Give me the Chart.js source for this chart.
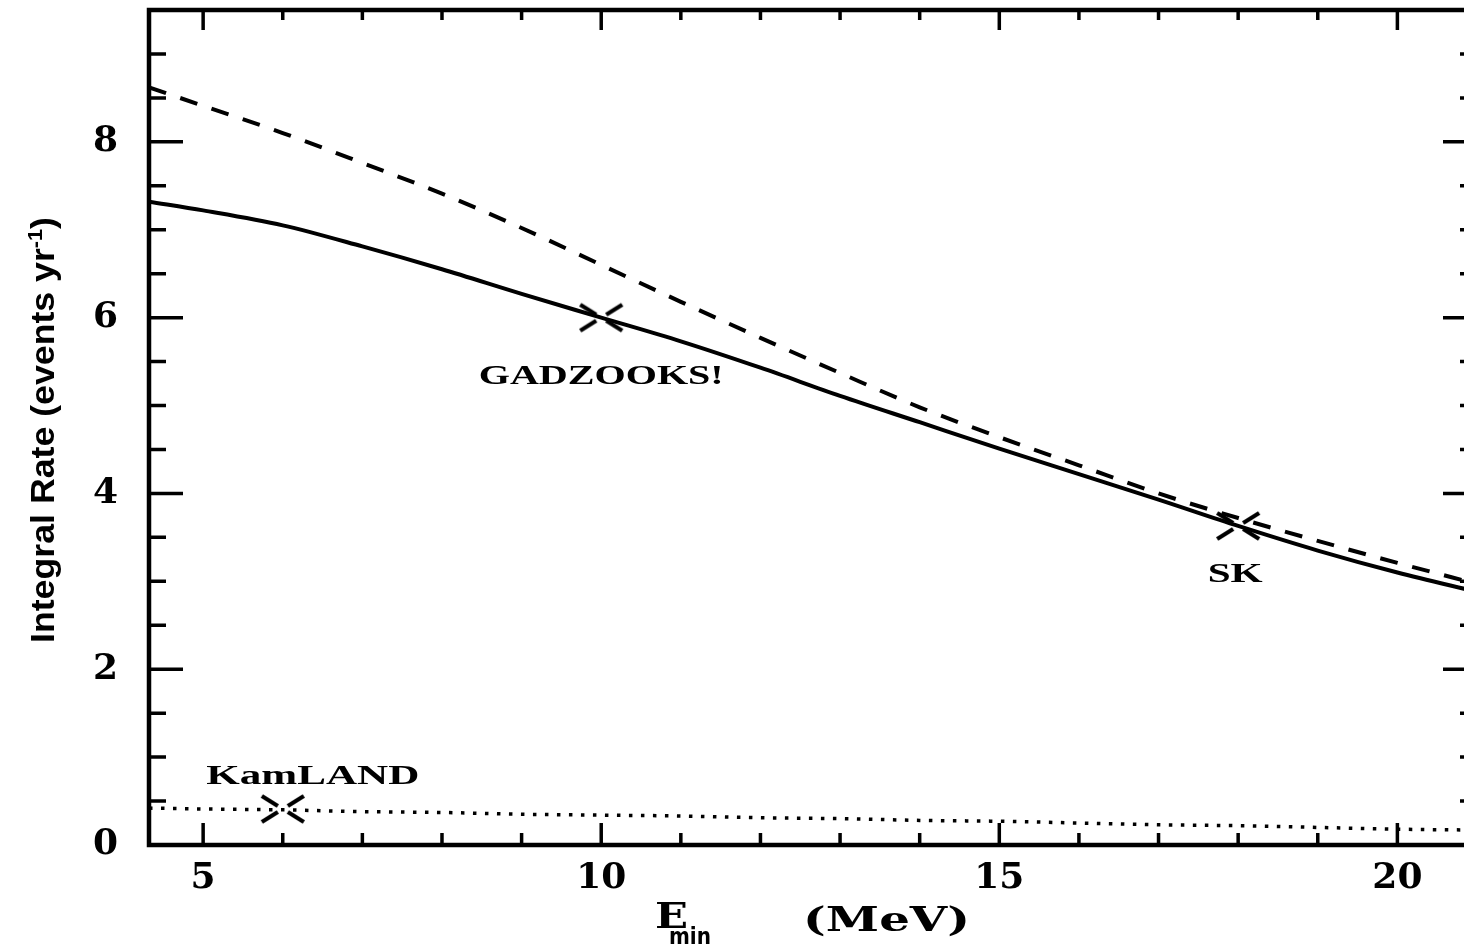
<!DOCTYPE html>
<html>
<head>
  <title>Integral Rate vs Emin</title>
  <script src="https://cdn.jsdelivr.net/npm/chart.js"></script>
  <style>
    html, body { margin: 0; padding: 0; background: #fff; overflow: hidden; }
    #wrap { width: 1490px; height: 950px; }
  </style>
</head>
<body>
  <div id="wrap"><canvas id="rateChart" width="1490" height="950"></canvas></div>

  <script>
    // threshold energy (MeV) and integral rates (events / yr)
    const energy = [4.32, 5, 6, 7, 8, 9, 10, 11, 12, 13, 14, 15, 16, 17, 18, 19, 20, 21];
    const rateSolid = [7.32, 7.22, 7.05, 6.81, 6.55, 6.27, 6.00, 5.73, 5.43, 5.11, 4.81, 4.51, 4.22, 3.93, 3.63, 3.35, 3.10, 2.88];
    const rateDashed = [8.62, 8.41, 8.10, 7.76, 7.41, 7.02, 6.60, 6.18, 5.77, 5.37, 4.98, 4.64, 4.32, 4.00, 3.72, 3.46, 3.21, 2.97];
    const rateDotted = [0.42, 0.41, 0.40, 0.38, 0.37, 0.35, 0.34, 0.33, 0.31, 0.30, 0.28, 0.27, 0.25, 0.23, 0.22, 0.20, 0.18, 0.17];

    // detector thresholds marked on the curves
    const detectorNames = ['KamLAND', 'GADZOOKS!', 'SK'];
    const detectorE = [6, 10, 18];
    const detectorRate = [0.41, 6.0, 3.63];

    const xTicks = [5, 10, 15, 20];
    const yTicks = [0, 2, 4, 6, 8];

    const pts = ys => energy.map((e, i) => ({ x: e, y: ys[i] }));

    // flattened "X" with an open centre, like the original markers
    const cross = document.createElement('canvas');
    cross.width = 48; cross.height = 32;
    (function () {
      const c = cross.getContext('2d');
      c.strokeStyle = '#000';
      c.lineWidth = 4;
      c.translate(24, 16);
      [[1, 1], [1, -1], [-1, 1], [-1, -1]].forEach(([sx, sy]) => {
        c.beginPath();
        c.moveTo(sx * 5, sy * 3);
        c.lineTo(sx * 21, sy * 13);
        c.stroke();
      });
    })();

    function stretchText(ctx, text, x, y, w, font, align) {
      ctx.save();
      ctx.font = font;
      const nat = ctx.measureText(text).width;
      ctx.translate(x, y);
      ctx.scale(w / nat, 1);
      ctx.textAlign = 'left';
      ctx.textBaseline = 'alphabetic';
      const off = align === 'center' ? -nat / 2 : (align === 'right' ? -nat : 0);
      ctx.fillText(text, off, 0);
      ctx.restore();
    }

    const framePlugin = {
      id: 'frame',
      afterDraw(chart) {
        const { ctx, chartArea: a, scales: { x, y } } = chart;
        ctx.save();
        ctx.strokeStyle = '#000';
        ctx.fillStyle = '#000';
        ctx.lineCap = 'butt';

        // inward ticks
        ctx.lineWidth = 3.5;
        ctx.beginPath();
        for (let v = 5; v <= 21; v++) {
          const px = x.getPixelForValue(v);
          const major = v % 5 === 0;
          ctx.moveTo(px, a.bottom); ctx.lineTo(px, a.bottom - (major ? 22 : 12));
          ctx.moveTo(px, a.top); ctx.lineTo(px, a.top + (major ? 20 : 10));
        }
        for (let v = 0.5; v < 9.5; v += 0.5) {
          const py = y.getPixelForValue(v);
          const major = v % 2 === 0;
          ctx.moveTo(a.left, py); ctx.lineTo(a.left + (major ? 34 : 17), py);
          ctx.moveTo(a.right, py); ctx.lineTo(a.right - (major ? 34 : 17), py);
        }
        ctx.stroke();

        // frame
        ctx.lineWidth = 4.5;
        ctx.strokeRect(a.left, a.top, a.right - a.left, a.bottom - a.top);

        // detector labels
        const offs = [[30, -25], [0, 66], [-3, 56]];
        const widths = [213, 245, 55];
        detectorNames.forEach((name, i) => {
          const px = x.getPixelForValue(detectorE[i]) + offs[i][0];
          const py = y.getPixelForValue(detectorRate[i]) + offs[i][1];
          stretchText(ctx, name, px, py, widths[i], 'bold 27px "Liberation Serif"', 'center');
        });

        // x axis title: E_min (MeV)
        stretchText(ctx, 'E', 655, 928, 33, 'bold 35px "DejaVu Serif"', 'left');
        stretchText(ctx, 'min', 669, 944, 42, 'bold 23px "DejaVu Sans"', 'left');
        stretchText(ctx, '(MeV)', 803, 931, 167, 'bold 34px "DejaVu Serif"', 'left');

        // y axis title, rotated and condensed
        ctx.save();
        ctx.translate(54, 643);
        ctx.rotate(-Math.PI / 2);
        const main = 'Integral Rate (events yr';
        const fMain = 'bold 33px "Liberation Sans"';
        const fSup = 'bold 20px "Liberation Sans"';
        ctx.font = fMain;
        const wMain = ctx.measureText(main).width;
        const wClose = ctx.measureText(')').width;
        ctx.font = fSup;
        const wSup = ctx.measureText('-1').width;
        const k = 426 / (wMain + wSup + wClose);
        ctx.scale(k, 1);
        ctx.textBaseline = 'alphabetic';
        ctx.font = fMain;
        ctx.fillText(main, 0, 0);
        ctx.font = fSup;
        ctx.fillText('-1', wMain, -12);
        ctx.font = fMain;
        ctx.fillText(')', wMain + wSup, 0);
        ctx.restore();

        ctx.restore();
      }
    };

    const tickFont = { family: 'DejaVu Serif', weight: 'bold', size: 36 };

    const ctx = document.getElementById('rateChart').getContext('2d');
    new Chart(ctx, {
      type: 'line',
      data: {
        datasets: [
          {
            data: pts(rateSolid),
            borderColor: '#000', borderWidth: 4,
            pointRadius: 0, cubicInterpolationMode: 'monotone'
          },
          {
            data: pts(rateDashed),
            borderColor: '#000', borderWidth: 4, borderDash: [18, 15],
            pointRadius: 0, cubicInterpolationMode: 'monotone'
          },
          {
            data: pts(rateDotted),
            borderColor: '#000', borderWidth: 3.5, borderDash: [3.5, 8.5],
            pointRadius: 0, cubicInterpolationMode: 'monotone'
          },
          {
            // image point style is drawn at its own size; small radius keeps layout padding small
            data: detectorE.map((e, i) => ({ x: e, y: detectorRate[i] })),
            showLine: false, borderWidth: 0,
            pointStyle: cross, pointRadius: 1
          }
        ]
      },
      options: {
        responsive: false,
        animation: false,
        events: [],
        layout: { padding: { top: 10, right: 13, left: 0, bottom: 0 } },
        plugins: { legend: { display: false }, tooltip: { enabled: false } },
        scales: {
          x: {
            type: 'linear', min: 4.32, max: 21,
            afterBuildTicks: s => { s.ticks = xTicks.map(v => ({ value: v })); },
            afterFit: s => {
              s.height = 105;
              s.paddingLeft = 0; s.paddingRight = 0; s.paddingTop = 0; s.paddingBottom = 0;
            },
            grid: { display: false, drawTicks: false },
            border: { display: false },
            ticks: { color: '#000', padding: 12, maxRotation: 0, font: tickFont }
          },
          y: {
            type: 'linear', min: 0, max: 9.5,
            afterBuildTicks: s => { s.ticks = yTicks.map(v => ({ value: v })); },
            afterFit: s => {
              s.width = 149;
              s.paddingLeft = 0; s.paddingRight = 0; s.paddingTop = 0; s.paddingBottom = 0;
            },
            grid: { display: false, drawTicks: false },
            border: { display: false },
            ticks: { color: '#000', padding: 31, font: tickFont }
          }
        }
      },
      plugins: [framePlugin]
    });
  </script>
</body>
</html>
